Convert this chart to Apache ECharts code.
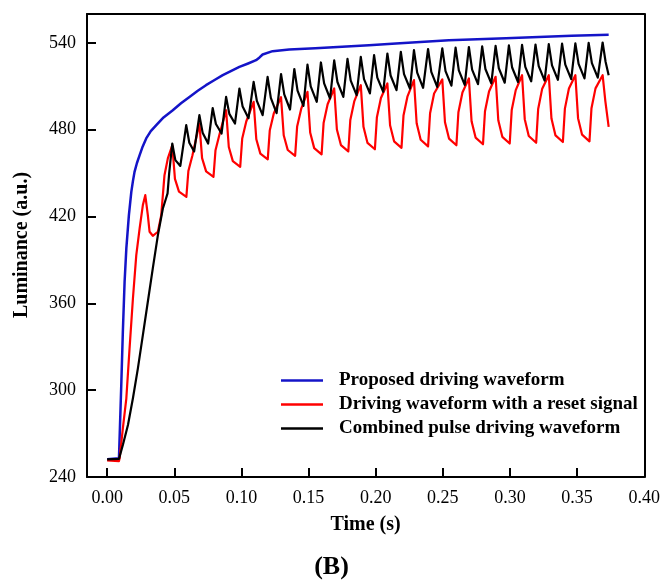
<!DOCTYPE html>
<html>
<head>
<meta charset="utf-8">
<script src="https://cdn.jsdelivr.net/npm/echarts@6/dist/echarts.min.js"></script>
<style>html,body{margin:0;padding:0;background:#fff;}#c{width:663px;height:583px;}</style>
</head>
<body>
<div id="c"></div>
<script>
const xTicks = [0, 0.05, 0.10, 0.15, 0.20, 0.25, 0.30, 0.35, 0.40];
const yTicks = [240, 300, 360, 420, 480, 540];
const seriesNames = ['Proposed driving waveform', 'Driving waveform with a reset signal', 'Combined pulse driving waveform'];

const blueData = [[0,252.2],[0.0088,252.9],[0.0106,305.8],[0.0117,340.4],[0.0130,374.9],[0.0143,398.0],[0.0162,421.0],[0.0180,437.1],[0.0192,444.5],[0.0204,450.9],[0.0222,457.0],[0.0242,462.4],[0.0265,468.5],[0.0291,474.0],[0.0325,479.0],[0.0366,483.2],[0.0420,488.5],[0.0489,493.5],[0.0550,498.3],[0.0613,502.7],[0.0675,507.0],[0.0736,510.8],[0.0800,514.4],[0.0861,517.7],[0.0925,520.7],[0.0985,523.4],[0.1050,525.8],[0.1109,528.1],[0.1135,530.0],[0.1158,532.0],[0.1232,534.3],[0.1356,535.4],[0.1550,536.4],[0.1750,537.3],[0.1950,538.4],[0.2151,539.6],[0.2545,541.9],[0.2969,543.2],[0.3459,544.9],[0.3735,545.6]];

const redData = [[0,251.5],[0.0088,251],[0.0093,252.9],[0.0117,273.6],[0.0143,294.4],[0.0167,328.9],[0.0192,363.4],[0.0217,393.4],[0.0242,411.8],[0.0266,427.9],[0.0284,434.8],[0.0303,421.0],[0.0316,409.5],[0.0340,406.7],[0.0378,409.5],[0.0403,421.0],[0.0427,448.6],[0.0452,460.2],
[0.0485,469.3],[0.0505,446.1],[0.0535,437.2],[0.0590,433.6],[0.0605,451.5],[0.0635,462.2],
[0.0687,484.3],[0.0707,460.4],[0.0737,451.2],[0.0792,447.5],[0.0807,465.9],[0.0837,476.9],
[0.0886,493.5],[0.0906,468.1],[0.0936,458.3],[0.0991,454.4],[0.1006,474.0],[0.1036,485.7],
[0.1091,499.3],[0.1111,473.4],[0.1141,463.5],[0.1196,459.5],[0.1211,479.4],[0.1241,491.3],
[0.1295,502.5],[0.1315,476.2],[0.1345,466.0],[0.1400,462.0],[0.1415,482.3],[0.1445,494.4],
[0.1492,506.2],[0.1512,478.1],[0.1542,467.3],[0.1597,463.0],[0.1612,484.6],[0.1642,497.6],
[0.1691,508.5],[0.1711,480.2],[0.1741,469.4],[0.1796,465.0],[0.1811,486.8],[0.1841,499.8],
[0.1889,510.8],[0.1909,482.0],[0.1939,470.9],[0.1994,466.5],[0.2009,488.7],[0.2039,501.9],
[0.2087,512.0],[0.2107,483.1],[0.2137,472.0],[0.2192,467.5],[0.2207,489.8],[0.2237,503.1],
[0.2285,514.3],[0.2305,484.5],[0.2335,473.1],[0.2390,468.5],[0.2405,491.4],[0.2435,505.1],
[0.2496,514.8],[0.2516,485.2],[0.2546,473.9],[0.2601,469.3],[0.2616,492.1],[0.2646,505.7],
[0.2694,515.5],[0.2714,485.9],[0.2744,474.6],[0.2799,470.0],[0.2814,492.8],[0.2844,506.4],
[0.2893,516.6],[0.2913,486.6],[0.2943,475.1],[0.2998,470.5],[0.3013,493.6],[0.3043,507.4],
[0.3090,517.7],[0.3110,487.3],[0.3140,475.7],[0.3195,471.0],[0.3210,494.4],[0.3240,508.4],
[0.3289,517.7],[0.3309,487.7],[0.3339,476.1],[0.3394,471.5],[0.3409,494.6],[0.3439,508.5],
[0.3487,517.7],[0.3507,488.0],[0.3537,476.6],[0.3592,472.0],[0.3607,494.9],[0.3637,508.6],
[0.3690,517.7],[0.3710,500.0],[0.3735,482.0]];

const blackData = [[0,252.2],[0.0088,252.5],[0.0117,262.1],[0.0155,275.9],[0.0192,294.4],[0.0229,315.1],[0.0266,338.1],[0.0303,361.1],[0.0340,384.2],[0.0378,407.2],[0.0415,425.6],[0.0440,433.0],[0.0450,436.0],[0.0462,450.0],
[0.0485,470.5],[0.0508,459],[0.0545,455],
[0.0589,483.2],[0.0612,471],[0.0648,465],
[0.0687,490.1],[0.0711,478],[0.0752,470.5],
[0.0786,495],[0.0810,484],[0.0852,477.4],
[0.0886,502.7],[0.0910,491],[0.0952,484.3],
[0.0985,508.5],[0.1009,496],[0.1053,488],
[0.1091,513.1],[0.1115,500],[0.1158,490.1],
[0.1195,516.5],[0.1219,502],[0.1262,491.5],
[0.1295,518.5],[0.1319,504.5],[0.1362,494],
[0.1394,522],[0.1418,507],[0.1462,496.5],
[0.1492,525],[0.1516,510],[0.1561,499.3],
[0.1592,526.5],[0.1616,512],[0.1660,501.6],
[0.1691,528],[0.1715,513],[0.1759,502.7],
[0.1790,529],[0.1814,514],[0.1858,503.9],
[0.1889,530.4],[0.1913,515],[0.1957,505.1],
[0.1988,531.6],[0.2012,516],[0.2056,506.2],
[0.2087,532.7],[0.2111,517.5],[0.2155,507.4],
[0.2187,533.9],[0.2211,518.5],[0.2255,508.5],
[0.2285,535],[0.2309,519.5],[0.2353,509],
[0.2390,535.8],[0.2414,520],[0.2458,509.6],
[0.2496,536.2],[0.2520,520.5],[0.2564,510.5],
[0.2595,536.8],[0.2619,521],[0.2663,511],
[0.2694,537.2],[0.2718,521.5],[0.2762,511.5],
[0.2793,537.6],[0.2817,522],[0.2861,512],
[0.2893,538],[0.2917,522.5],[0.2961,512.5],
[0.2992,538.3],[0.3016,523],[0.3060,513],
[0.3090,538.6],[0.3114,523.5],[0.3158,513.5],
[0.3190,538.9],[0.3214,524],[0.3258,514],
[0.3289,539.2],[0.3313,524.5],[0.3357,514.5],
[0.3388,539.5],[0.3412,525],[0.3456,515],
[0.3487,539.7],[0.3511,525.5],[0.3555,515.5],
[0.3586,540],[0.3610,526],[0.3654,516],
[0.3690,540.3],[0.3712,527],[0.3735,517.7]];

const serif = '"Liberation Serif", "DejaVu Serif", serif';
const chart = echarts.init(document.getElementById('c'), null, {renderer: 'canvas'});
function mk(name, data, color, width) {
  return {name: name, type: 'line', data: data, symbol: 'none', showSymbol: false,
    xAxisIndex: 0, yAxisIndex: 0,
    lineStyle: {color: color, width: width, join: 'round'}, itemStyle: {color: color}, animation: false};
}
const frameLine = {show: true, onZero: false, lineStyle: {color: '#000', width: 2}};
chart.setOption({
  animation: false,
  backgroundColor: '#fff',
  grid: {left: 87, right: 17, top: 14, bottom: 106},
  xAxis: [{
    type: 'value', min: -0.015, max: 0.4, position: 'bottom',
    name: 'Time (s)', nameLocation: 'middle', nameGap: 38,
    nameTextStyle: {fontFamily: serif, fontWeight: 'bold', fontSize: 20, color: '#000'},
    axisLine: frameLine,
    axisTick: {show: true, inside: true, length: 9, lineStyle: {color: '#000', width: 2}, customValues: xTicks},
    axisLabel: {customValues: xTicks, margin: 12, fontFamily: serif, fontSize: 18, color: '#000', formatter: v => v.toFixed(2)},
    splitLine: {show: false}
  }, {
    type: 'value', min: -0.015, max: 0.4, position: 'top',
    axisLine: frameLine, axisTick: {show: false}, axisLabel: {show: false}, splitLine: {show: false}
  }],
  yAxis: [{
    type: 'value', min: 240, max: 560, position: 'left',
    axisLine: frameLine,
    axisTick: {show: true, inside: true, length: 9, lineStyle: {color: '#000', width: 2}, customValues: yTicks},
    axisLabel: {customValues: yTicks, margin: 11, fontFamily: serif, fontSize: 18, color: '#000'},
    splitLine: {show: false}
  }, {
    type: 'value', min: 240, max: 560, position: 'right',
    axisLine: frameLine, axisTick: {show: false}, axisLabel: {show: false}, splitLine: {show: false}
  }],
  graphic: [{
    type: 'text', x: 22, y: 245, rotation: Math.PI / 2,
    style: {text: 'Luminance (a.u.)', font: 'bold 20px "Liberation Serif", serif', fill: '#000', align: 'center', verticalAlign: 'middle'}
  }],
  legend: {
    data: seriesNames, orient: 'vertical', left: 276, top: 366,
    icon: 'rect', itemWidth: 42, itemHeight: 2.5, itemGap: 5,
    textStyle: {fontFamily: serif, fontWeight: 'bold', fontSize: 19, color: '#000', padding: [0, 0, 0, 11]}
  },
  title: {
    text: '(B)', left: 'center', top: 549,
    textStyle: {fontFamily: serif, fontWeight: 'bold', fontSize: 26, color: '#000'}
  },
  series: [
    mk(seriesNames[0], blueData, '#1414c8', 2.5),
    mk(seriesNames[1], redData, '#ff0000', 2.2),
    mk(seriesNames[2], blackData, '#000000', 2.2)
  ]
});
</script>
</body>
</html>
